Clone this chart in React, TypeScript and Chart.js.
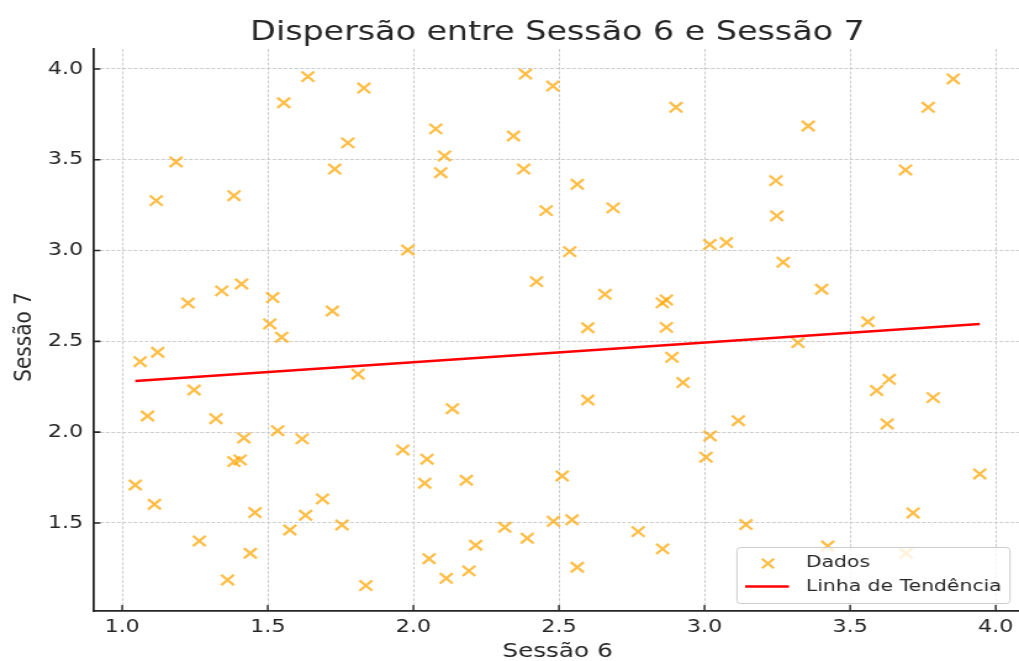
import React, { useEffect, useRef } from "react";
import { Chart, registerables } from "chart.js";

Chart.register(...registerables);

// ---------- data ----------
const chartTitle = "Dispersão entre Sessão 6 e Sessão 7";
const xAxisLabel = "Sessão 6";
const yAxisLabel = "Sessão 7";
const scatterLabel = "Dados";
const trendLabel = "Linha de Tendência";

const sessao6 = [
  1.045, 1.062, 1.087, 1.111, 1.117, 1.122, 1.185, 1.226, 1.247, 1.265,
  1.322, 1.342, 1.362, 1.384, 1.384, 1.405, 1.41, 1.418, 1.44, 1.456,
  1.507, 1.517, 1.534, 1.548, 1.555, 1.576, 1.618, 1.63, 1.638, 1.688,
  1.722, 1.73, 1.755, 1.775, 1.81, 1.83, 1.837, 1.964, 1.981, 2.047,
  2.039, 2.054, 2.077, 2.094, 2.107, 2.113, 2.134, 2.182, 2.191, 2.214,
  2.314, 2.344, 2.379, 2.385, 2.391, 2.423, 2.456, 2.479, 2.481, 2.511,
  2.537, 2.545, 2.563, 2.563, 2.599, 2.599, 2.658, 2.686, 2.772, 2.855,
  2.856, 2.869, 2.869, 2.888, 2.902, 2.926, 3.005, 3.018, 3.019, 3.075,
  3.116, 3.142, 3.245, 3.248, 3.27, 3.321, 3.356, 3.402, 3.423, 3.561,
  3.591, 3.634, 3.627, 3.69, 3.692, 3.716, 3.768, 3.785, 3.854, 3.945,
];

const sessao7 = [
  1.709, 2.388, 2.089, 1.603, 3.275, 2.44, 3.488, 2.711, 2.232, 1.401,
  2.074, 2.778, 1.186, 3.302, 1.838, 1.847, 2.816, 1.968, 1.333, 1.557,
  2.596, 2.741, 2.008, 2.523, 3.814, 1.461, 1.963, 1.542, 3.958, 1.632,
  2.667, 3.449, 1.489, 3.593, 2.319, 3.895, 1.155, 1.902, 3.003, 1.851,
  1.719, 1.303, 3.67, 3.429, 3.521, 1.195, 2.129, 1.735, 1.236, 1.377,
  1.476, 3.631, 3.449, 3.972, 1.416, 2.829, 3.22, 3.906, 1.509, 1.759,
  2.994, 1.517, 3.365, 1.256, 2.575, 2.177, 2.759, 3.235, 1.452, 2.712,
  1.357, 2.728, 2.577, 2.412, 3.789, 2.273, 1.862, 3.033, 1.979, 3.044,
  2.063, 1.491, 3.385, 3.191, 2.936, 2.493, 3.686, 2.787, 1.373, 2.608,
  2.229, 2.291, 2.045, 3.444, 1.333, 1.555, 3.789, 2.19, 3.945, 1.77,
];

const trendX = [1.045, 3.945];
const trendY = [2.282, 2.596];

const xTicks = [1.0, 1.5, 2.0, 2.5, 3.0, 3.5, 4.0];
const yTicks = [1.5, 2.0, 2.5, 3.0, 3.5, 4.0];

// ---------- layout / style ----------
const SX = 1019 / 826; // horizontal stretch of the reference
const CW = 838;
const CH = 661;
const FONT = "'DejaVu Sans', 'Liberation Sans', sans-serif";
const TEXT = "#262626";
const SCATTER_COLOR = "rgba(255,165,0,0.72)";
const TREND_COLOR = "#ff0000";

const decorPlugin = {
  id: "decor",
  afterDraw(chart: any) {
    const { ctx, chartArea, scales } = chart;
    const xs = scales.x;
    const ys = scales.y;
    ctx.save();
    // inward ticks
    ctx.strokeStyle = TEXT;
    ctx.lineWidth = 1.4;
    ctx.beginPath();
    xTicks.forEach((v) => {
      const px = xs.getPixelForValue(v);
      ctx.moveTo(px, chartArea.bottom);
      ctx.lineTo(px, chartArea.bottom - 6);
    });
    ctx.stroke();
    ctx.lineWidth = 1.6;
    ctx.beginPath();
    yTicks.forEach((v) => {
      const py = ys.getPixelForValue(v);
      ctx.moveTo(chartArea.left, py);
      ctx.lineTo(chartArea.left + 6, py);
    });
    ctx.stroke();

    // title
    ctx.fillStyle = TEXT;
    ctx.font = `27px ${FONT}`;
    ctx.textAlign = "center";
    ctx.textBaseline = "alphabetic";
    ctx.fillText(chartTitle, (chartArea.left + chartArea.right) / 2, 39.5);

    // y axis title
    ctx.save();
    ctx.translate(19.5, 337);
    ctx.rotate(-Math.PI / 2);
    ctx.font = `20px ${FONT}`;
    ctx.textAlign = "center";
    ctx.textBaseline = "middle";
    ctx.fillText(yAxisLabel, 0, 0);
    ctx.restore();

    // legend
    const bx = 597.4, by = 547.5, bw = 221.3, bh = 56;
    ctx.beginPath();
    ctx.roundRect(bx, by, bw, bh, 3);
    ctx.fillStyle = "rgba(255,255,255,0.8)";
    ctx.fill();
    ctx.strokeStyle = "#cccccc";
    ctx.lineWidth = 1;
    ctx.stroke();

    // scatter marker
    const mx = 622.5, my = 563.5, h = 4.8;
    ctx.strokeStyle = SCATTER_COLOR;
    ctx.lineWidth = 2.3;
    ctx.beginPath();
    ctx.moveTo(mx - h, my - h);
    ctx.lineTo(mx + h, my + h);
    ctx.moveTo(mx + h, my - h);
    ctx.lineTo(mx - h, my + h);
    ctx.stroke();

    // trend line sample
    ctx.strokeStyle = TREND_COLOR;
    ctx.lineWidth = 2.5;
    ctx.beginPath();
    ctx.moveTo(604, 586.5);
    ctx.lineTo(639.5, 586.5);
    ctx.stroke();

    ctx.fillStyle = TEXT;
    ctx.font = `16.5px ${FONT}`;
    ctx.textAlign = "left";
    ctx.textBaseline = "middle";
    ctx.fillText(scatterLabel, 653.3, 562.5);
    ctx.fillText(trendLabel, 653.3, 587);
    ctx.restore();
  },
};

export default function App() {
  const ref = useRef<HTMLCanvasElement | null>(null);

  useEffect(() => {
    const canvas = ref.current;
    if (!canvas) return;
    const chart = new Chart(canvas, {
      type: "scatter",
      data: {
        datasets: [
          {
            type: "scatter",
            label: scatterLabel,
            data: sessao6.map((x, i) => ({ x, y: sessao7[i] })),
            pointStyle: "crossRot",
            pointRadius: 7.3,
            pointHoverRadius: 7.3,
            borderWidth: 2.3,
            pointBorderWidth: 2.3,
            borderColor: SCATTER_COLOR,
            backgroundColor: SCATTER_COLOR,
            order: 2,
          } as any,
          {
            type: "line",
            label: trendLabel,
            data: trendX.map((x, i) => ({ x, y: trendY[i] })),
            borderColor: TREND_COLOR,
            backgroundColor: TREND_COLOR,
            borderWidth: 2.5,
            pointRadius: 0,
            fill: false,
            tension: 0,
            order: 1,
          } as any,
        ],
      },
      options: {
        responsive: false,
        animation: false,
        devicePixelRatio: 1,
        events: [],
        layout: { padding: { top: 49, left: 0, right: 0, bottom: 0 } },
        plugins: {
          legend: { display: false },
          tooltip: { enabled: false },
          title: { display: false },
        },
        scales: {
          x: {
            type: "linear",
            position: "bottom",
            min: 0.9,
            max: 4.09,
            afterBuildTicks: (s: any) => {
              s.ticks = xTicks.map((v) => ({ value: v }));
            },
            afterFit: (s: any) => {
              s.height = 50;
            },
            grid: { color: "#cccccc", lineWidth: 1, drawTicks: false },
            border: { display: true, color: TEXT, width: 1.8, dash: [3, 1.5] },
            ticks: {
              padding: 6,
              color: TEXT,
              autoSkip: false,
              maxRotation: 0,
              font: { family: FONT, size: 18 },
              callback: (v: any) => Number(v).toFixed(1),
            },
            title: {
              display: true,
              text: xAxisLabel,
              color: TEXT,
              font: { family: FONT, size: 20, lineHeight: 1 },
              padding: { top: 0, bottom: -1 },
            },
          },
          y: {
            type: "linear",
            position: "left",
            min: 1.015,
            max: 4.11,
            afterBuildTicks: (s: any) => {
              s.ticks = yTicks.map((v) => ({ value: v }));
            },
            afterFit: (s: any) => {
              s.width = 75.4;
            },
            grid: { color: "#cccccc", lineWidth: 1, drawTicks: false },
            border: { display: true, color: TEXT, width: 1.8, dash: [3, 1.5] },
            ticks: {
              padding: 8,
              color: TEXT,
              autoSkip: false,
              font: { family: FONT, size: 18 },
              callback: (v: any) => Number(v).toFixed(1),
            },
            title: { display: false },
          },
        },
      } as any,
      plugins: [decorPlugin],
    });
    return () => chart.destroy();
  }, []);

  return (
    <div
      style={{
        position: "fixed",
        left: 0,
        top: 0,
        width: 1019,
        height: 661,
        overflow: "hidden",
        background: "#ffffff",
      }}
    >
      <canvas
        ref={ref}
        width={CW}
        height={CH}
        style={{
          width: CW,
          height: CH,
          display: "block",
          transform: `scaleX(${SX})`,
          transformOrigin: "0 0",
        }}
      />
    </div>
  );
}
